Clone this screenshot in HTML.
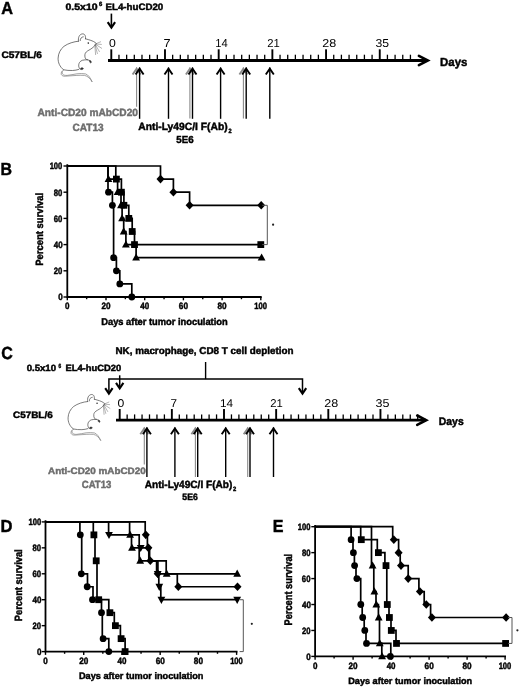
<!DOCTYPE html>
<html><head><meta charset="utf-8"><title>Figure</title>
<style>
html,body{margin:0;padding:0;background:#fff;}
body{width:520px;height:687px;overflow:hidden;font-family:"Liberation Sans", sans-serif;}
svg{display:block;filter:blur(0.3px);}
</style></head><body>
<svg width="520" height="687" viewBox="0 0 520 687" font-family='"Liberation Sans", sans-serif' text-rendering="geometricPrecision">
<rect width="520" height="687" fill="#fff"/>
<text x="1.22" y="13.60" font-size="17.50" font-weight="bold" stroke="#000" stroke-width="0.45" textLength="11.76" lengthAdjust="spacingAndGlyphs">A</text>
<text x="65.55" y="9.70" font-size="9.30" font-weight="bold" stroke="#000" stroke-width="0.45" textLength="32.01" lengthAdjust="spacingAndGlyphs">0.5x10</text>
<text x="98.92" y="6.00" font-size="6.20" font-weight="bold" stroke="#000" stroke-width="0.45" textLength="3.28" lengthAdjust="spacingAndGlyphs">6</text>
<text x="105.51" y="9.70" font-size="9.30" font-weight="bold" stroke="#000" stroke-width="0.45" textLength="57.78" lengthAdjust="spacingAndGlyphs">EL4-huCD20</text>
<path d="M111.4,13.6 V27" stroke="#000" stroke-width="1.6" fill="none" />
<path d="M107.70,22.20 L111.40,27.70 L115.10,22.20" stroke="#000" stroke-width="2.1" fill="none" stroke-linejoin="miter"/>
<text x="1.44" y="57.90" font-size="9.40" font-weight="bold" stroke="#000" stroke-width="0.45" textLength="40.49" lengthAdjust="spacingAndGlyphs">C57BL/6</text>

<g fill="none" stroke="#4a4a4a" stroke-width="0.75" stroke-linecap="round" stroke-linejoin="round">
<path d="M78.5,41.2 C77.8,37.8 79.4,34.2 82.3,33.9 C84.4,33.7 85.9,35.2 85.5,38.8"/>
<path d="M80.2,40.6 C80.3,38.4 81.3,37.0 83.3,36.8"/>
<path d="M85.5,38.8 C87.4,39.4 89.2,39.8 90.9,40.4 C92.6,41 94.2,41.7 95.2,42.5 C96,43 96.5,43.4 96.3,43.9 C96.1,44.5 95.6,44.9 95.2,45.2"/>
<path d="M95.2,45.2 C93.8,46.8 92.4,48 90.9,49 C89.6,49.9 88.2,50.4 87.2,51.2 C85.8,52.2 85,53.4 84.9,54.8 C84.8,56.6 85,58 85.8,58.9 C86.4,59.5 87,59.7 87.7,59.8 C88.8,60.1 90,60.6 90.9,61.4"/>
<path d="M78.5,41.2 C74,41.6 68,43.4 64,46.3 C60.5,49 58.2,53.6 58.1,58.2 C58,62.5 59.6,66.6 63.5,69.8"/>
<path d="M87.7,59.8 C85.8,59.8 83.8,59.8 82.3,60.3 C80.6,61 79.4,62.2 79,63.6 C78.5,65.2 78.6,66.6 79.2,67.8 C79.6,68.8 80.2,69.3 80.9,69.5"/>
<path d="M63.5,69.8 C66.5,70.4 69.5,70.6 72.5,70.5 C75,70.4 77,70 78.8,69.4"/>
</g>
<g fill="none" stroke="#7a7a7a" stroke-width="0.7" stroke-linecap="round">
<path d="M62.9,70.5 C62.2,71.6 62,73 62.4,73.8 C63.4,75.2 65,75.5 67.2,75.4 C70.5,75.2 73.5,74.2 76.9,73.8 C80,73.5 83,73.4 85.5,73.9 C88.4,74.8 90.6,78.2 92,81.6"/>
<path d="M61.6,71.6 C61.2,72.6 61,73.8 61.3,74.5 C62,75.8 63.4,76.3 65.1,76.2 C69,76 73,75.6 76.9,75.4 C79.5,75.3 82.2,75.2 84.5,75.4 C87.8,76 90.4,78.8 92,81.6"/>
</g>
<g fill="none" stroke="#666" stroke-width="0.5" stroke-linecap="round">
<path d="M95.8,43.8 L100.6,41.8"/>
<path d="M95.8,44 L101.4,44.4"/>
<path d="M95.6,44.4 L101.7,48.3"/>
<path d="M95.4,44.7 L99.4,51.6"/>
<path d="M95.1,44.9 L97.4,53.6"/>
<path d="M94.8,45.1 L95.6,54.6"/>
</g>
<circle cx="88.3" cy="43.1" r="0.8" fill="#222"/>
<path d="M89.6,60.4 C90.8,60.8 91.6,61.6 91.2,62.6 C90.6,63.2 89.9,62.6 89.6,61.8Z" fill="#333" stroke="#333" stroke-width="0.6"/>
<path d="M80.8,68.2 C81.8,67.6 83.2,67.8 83.4,68.8 C82.8,69.6 81.6,69.6 80.8,69.2Z" fill="#333" stroke="#333" stroke-width="0.6"/>

<path d="M108.00,60.50 H427.50" stroke="#000" stroke-width="2.8" fill="none" />
<path d="M418.90,55.80 L427.90,60.50 L418.90,65.20" stroke="#000" stroke-width="2.6" fill="none" stroke-linejoin="miter" stroke-linecap="round"/>
<line x1="111.30" y1="49.30" x2="111.30" y2="60.50" stroke="#000" stroke-width="1.9"/>
<line x1="118.97" y1="54.70" x2="118.97" y2="60.50" stroke="#000" stroke-width="1.3"/>
<line x1="126.64" y1="54.70" x2="126.64" y2="60.50" stroke="#000" stroke-width="1.3"/>
<line x1="134.31" y1="54.70" x2="134.31" y2="60.50" stroke="#000" stroke-width="1.3"/>
<line x1="141.98" y1="54.70" x2="141.98" y2="60.50" stroke="#000" stroke-width="1.3"/>
<line x1="149.65" y1="54.70" x2="149.65" y2="60.50" stroke="#000" stroke-width="1.3"/>
<line x1="157.32" y1="54.70" x2="157.32" y2="60.50" stroke="#000" stroke-width="1.3"/>
<line x1="164.99" y1="49.30" x2="164.99" y2="60.50" stroke="#000" stroke-width="1.9"/>
<line x1="172.66" y1="54.70" x2="172.66" y2="60.50" stroke="#000" stroke-width="1.3"/>
<line x1="180.33" y1="54.70" x2="180.33" y2="60.50" stroke="#000" stroke-width="1.3"/>
<line x1="188.00" y1="54.70" x2="188.00" y2="60.50" stroke="#000" stroke-width="1.3"/>
<line x1="195.67" y1="54.70" x2="195.67" y2="60.50" stroke="#000" stroke-width="1.3"/>
<line x1="203.34" y1="54.70" x2="203.34" y2="60.50" stroke="#000" stroke-width="1.3"/>
<line x1="211.01" y1="54.70" x2="211.01" y2="60.50" stroke="#000" stroke-width="1.3"/>
<line x1="218.68" y1="49.30" x2="218.68" y2="60.50" stroke="#000" stroke-width="1.9"/>
<line x1="226.35" y1="54.70" x2="226.35" y2="60.50" stroke="#000" stroke-width="1.3"/>
<line x1="234.02" y1="54.70" x2="234.02" y2="60.50" stroke="#000" stroke-width="1.3"/>
<line x1="241.69" y1="54.70" x2="241.69" y2="60.50" stroke="#000" stroke-width="1.3"/>
<line x1="249.36" y1="54.70" x2="249.36" y2="60.50" stroke="#000" stroke-width="1.3"/>
<line x1="257.03" y1="54.70" x2="257.03" y2="60.50" stroke="#000" stroke-width="1.3"/>
<line x1="264.70" y1="54.70" x2="264.70" y2="60.50" stroke="#000" stroke-width="1.3"/>
<line x1="272.37" y1="49.30" x2="272.37" y2="60.50" stroke="#000" stroke-width="1.9"/>
<line x1="280.04" y1="54.70" x2="280.04" y2="60.50" stroke="#000" stroke-width="1.3"/>
<line x1="287.71" y1="54.70" x2="287.71" y2="60.50" stroke="#000" stroke-width="1.3"/>
<line x1="295.38" y1="54.70" x2="295.38" y2="60.50" stroke="#000" stroke-width="1.3"/>
<line x1="303.05" y1="54.70" x2="303.05" y2="60.50" stroke="#000" stroke-width="1.3"/>
<line x1="310.72" y1="54.70" x2="310.72" y2="60.50" stroke="#000" stroke-width="1.3"/>
<line x1="318.39" y1="54.70" x2="318.39" y2="60.50" stroke="#000" stroke-width="1.3"/>
<line x1="326.06" y1="49.30" x2="326.06" y2="60.50" stroke="#000" stroke-width="1.9"/>
<line x1="333.73" y1="54.70" x2="333.73" y2="60.50" stroke="#000" stroke-width="1.3"/>
<line x1="341.40" y1="54.70" x2="341.40" y2="60.50" stroke="#000" stroke-width="1.3"/>
<line x1="349.07" y1="54.70" x2="349.07" y2="60.50" stroke="#000" stroke-width="1.3"/>
<line x1="356.74" y1="54.70" x2="356.74" y2="60.50" stroke="#000" stroke-width="1.3"/>
<line x1="364.41" y1="54.70" x2="364.41" y2="60.50" stroke="#000" stroke-width="1.3"/>
<line x1="372.08" y1="54.70" x2="372.08" y2="60.50" stroke="#000" stroke-width="1.3"/>
<line x1="379.75" y1="49.30" x2="379.75" y2="60.50" stroke="#000" stroke-width="1.9"/>
<line x1="387.42" y1="54.70" x2="387.42" y2="60.50" stroke="#000" stroke-width="1.3"/>
<line x1="395.09" y1="54.70" x2="395.09" y2="60.50" stroke="#000" stroke-width="1.3"/>
<line x1="402.76" y1="54.70" x2="402.76" y2="60.50" stroke="#000" stroke-width="1.3"/>
<line x1="410.43" y1="54.70" x2="410.43" y2="60.50" stroke="#000" stroke-width="1.3"/>
<text x="109.12" y="46.50" font-size="11.50" textLength="6.81" lengthAdjust="spacingAndGlyphs">0</text>
<text x="163.53" y="46.50" font-size="11.50" textLength="7.07" lengthAdjust="spacingAndGlyphs">7</text>
<text x="215.34" y="46.50" font-size="11.50" textLength="12.48" lengthAdjust="spacingAndGlyphs">14</text>
<text x="267.19" y="46.50" font-size="11.50" textLength="12.55" lengthAdjust="spacingAndGlyphs">21</text>
<text x="322.34" y="46.50" font-size="11.50" textLength="13.94" lengthAdjust="spacingAndGlyphs">28</text>
<text x="375.58" y="46.50" font-size="11.50" textLength="13.59" lengthAdjust="spacingAndGlyphs">35</text>
<text x="440.07" y="65.50" font-size="11.80" font-weight="bold" stroke="#000" stroke-width="0.45" textLength="27.24" lengthAdjust="spacingAndGlyphs">Days</text>
<path d="M136.60,67.60 V106.70" stroke="#8a8a8a" stroke-width="1.1" fill="none" />
<path d="M132.60,74.50 L136.60,68.70 L140.60,74.50" stroke="#8a8a8a" stroke-width="1.9" fill="none" stroke-linejoin="miter"/>
<path d="M189.90,67.60 V118.60" stroke="#8a8a8a" stroke-width="1.1" fill="none" />
<path d="M185.90,74.50 L189.90,68.70 L193.90,74.50" stroke="#8a8a8a" stroke-width="1.9" fill="none" stroke-linejoin="miter"/>
<path d="M243.40,67.60 V118.60" stroke="#8a8a8a" stroke-width="1.1" fill="none" />
<path d="M239.40,74.50 L243.40,68.70 L247.40,74.50" stroke="#8a8a8a" stroke-width="1.9" fill="none" stroke-linejoin="miter"/>
<path d="M139.60,67.60 V118.80" stroke="#000" stroke-width="1.4" fill="none" />
<path d="M135.60,74.50 L139.60,68.70 L143.60,74.50" stroke="#000" stroke-width="1.9" fill="none" stroke-linejoin="miter"/>
<path d="M168.50,67.60 V118.80" stroke="#000" stroke-width="1.4" fill="none" />
<path d="M164.50,74.50 L168.50,68.70 L172.50,74.50" stroke="#000" stroke-width="1.9" fill="none" stroke-linejoin="miter"/>
<path d="M192.50,67.60 V118.80" stroke="#000" stroke-width="1.4" fill="none" />
<path d="M188.50,74.50 L192.50,68.70 L196.50,74.50" stroke="#000" stroke-width="1.9" fill="none" stroke-linejoin="miter"/>
<path d="M220.60,67.60 V118.80" stroke="#000" stroke-width="1.4" fill="none" />
<path d="M216.60,74.50 L220.60,68.70 L224.60,74.50" stroke="#000" stroke-width="1.9" fill="none" stroke-linejoin="miter"/>
<path d="M246.20,67.60 V118.80" stroke="#000" stroke-width="1.4" fill="none" />
<path d="M242.20,74.50 L246.20,68.70 L250.20,74.50" stroke="#000" stroke-width="1.9" fill="none" stroke-linejoin="miter"/>
<path d="M269.80,67.60 V118.80" stroke="#000" stroke-width="1.4" fill="none" />
<path d="M265.80,74.50 L269.80,68.70 L273.80,74.50" stroke="#000" stroke-width="1.9" fill="none" stroke-linejoin="miter"/>
<text x="37.54" y="116.40" font-size="10.50" font-weight="bold" stroke="#6e6e6e" stroke-width="0.45" fill="#6e6e6e" textLength="100.40" lengthAdjust="spacingAndGlyphs">Anti-CD20 mAbCD20</text>
<text x="72.54" y="130.70" font-size="10.50" font-weight="bold" stroke="#6e6e6e" stroke-width="0.45" fill="#6e6e6e" textLength="31.03" lengthAdjust="spacingAndGlyphs">CAT13</text>
<text x="138.24" y="129.90" font-size="10.50" font-weight="bold" stroke="#000" stroke-width="0.45" textLength="89.40" lengthAdjust="spacingAndGlyphs">Anti-Ly49C/I F(Ab)</text>
<text x="228.52" y="132.60" font-size="6.20" font-weight="bold" stroke="#000" stroke-width="0.45" textLength="3.09" lengthAdjust="spacingAndGlyphs">2</text>
<text x="176.27" y="142.90" font-size="10.20" font-weight="bold" stroke="#000" stroke-width="0.45" textLength="17.31" lengthAdjust="spacingAndGlyphs">5E6</text>
<text x="0.43" y="175.40" font-size="17.50" font-weight="bold" stroke="#000" stroke-width="0.45" textLength="11.50" lengthAdjust="spacingAndGlyphs">B</text>
<path d="M67.30,165.20 V297.00 H260.80" stroke="#000" stroke-width="1.8" fill="none" stroke-linecap="square"/>
<line x1="63.50" y1="297.00" x2="67.30" y2="297.00" stroke="#000" stroke-width="1.4"/>
<text x="58.17" y="300.40" font-size="9.20" font-weight="bold" stroke="#000" stroke-width="0.45" textLength="4.49" lengthAdjust="spacingAndGlyphs">0</text>
<line x1="63.50" y1="270.80" x2="67.30" y2="270.80" stroke="#000" stroke-width="1.4"/>
<text x="53.69" y="274.20" font-size="9.20" font-weight="bold" stroke="#000" stroke-width="0.45" textLength="8.56" lengthAdjust="spacingAndGlyphs">20</text>
<line x1="63.50" y1="244.60" x2="67.30" y2="244.60" stroke="#000" stroke-width="1.4"/>
<text x="53.78" y="248.00" font-size="9.20" font-weight="bold" stroke="#000" stroke-width="0.45" textLength="8.90" lengthAdjust="spacingAndGlyphs">40</text>
<line x1="63.50" y1="218.40" x2="67.30" y2="218.40" stroke="#000" stroke-width="1.4"/>
<text x="53.67" y="221.80" font-size="9.20" font-weight="bold" stroke="#000" stroke-width="0.45" textLength="8.63" lengthAdjust="spacingAndGlyphs">60</text>
<line x1="63.50" y1="192.20" x2="67.30" y2="192.20" stroke="#000" stroke-width="1.4"/>
<text x="53.69" y="195.60" font-size="9.20" font-weight="bold" stroke="#000" stroke-width="0.45" textLength="8.59" lengthAdjust="spacingAndGlyphs">80</text>
<line x1="63.50" y1="166.00" x2="67.30" y2="166.00" stroke="#000" stroke-width="1.4"/>
<text x="49.64" y="169.40" font-size="9.20" font-weight="bold" stroke="#000" stroke-width="0.45" textLength="12.68" lengthAdjust="spacingAndGlyphs">100</text>
<line x1="67.30" y1="297.00" x2="67.30" y2="300.30" stroke="#000" stroke-width="1.4"/>
<text x="65.12" y="309.30" font-size="9.20" font-weight="bold" stroke="#000" stroke-width="0.45" textLength="4.49" lengthAdjust="spacingAndGlyphs">0</text>
<line x1="86.65" y1="297.00" x2="86.65" y2="299.20" stroke="#000" stroke-width="1.4"/>
<line x1="106.00" y1="297.00" x2="106.00" y2="300.30" stroke="#000" stroke-width="1.4"/>
<text x="101.49" y="309.30" font-size="9.20" font-weight="bold" stroke="#000" stroke-width="0.45" textLength="9.09" lengthAdjust="spacingAndGlyphs">20</text>
<line x1="125.35" y1="297.00" x2="125.35" y2="299.20" stroke="#000" stroke-width="1.4"/>
<line x1="144.70" y1="297.00" x2="144.70" y2="300.30" stroke="#000" stroke-width="1.4"/>
<text x="140.27" y="309.30" font-size="9.20" font-weight="bold" stroke="#000" stroke-width="0.45" textLength="8.92" lengthAdjust="spacingAndGlyphs">40</text>
<line x1="164.05" y1="297.00" x2="164.05" y2="299.20" stroke="#000" stroke-width="1.4"/>
<line x1="183.40" y1="297.00" x2="183.40" y2="300.30" stroke="#000" stroke-width="1.4"/>
<text x="178.87" y="309.30" font-size="9.20" font-weight="bold" stroke="#000" stroke-width="0.45" textLength="9.15" lengthAdjust="spacingAndGlyphs">60</text>
<line x1="202.75" y1="297.00" x2="202.75" y2="299.20" stroke="#000" stroke-width="1.4"/>
<line x1="222.10" y1="297.00" x2="222.10" y2="300.30" stroke="#000" stroke-width="1.4"/>
<text x="217.57" y="309.30" font-size="9.20" font-weight="bold" stroke="#000" stroke-width="0.45" textLength="9.13" lengthAdjust="spacingAndGlyphs">80</text>
<line x1="241.45" y1="297.00" x2="241.45" y2="299.20" stroke="#000" stroke-width="1.4"/>
<line x1="260.80" y1="297.00" x2="260.80" y2="300.30" stroke="#000" stroke-width="1.4"/>
<text x="254.34" y="309.30" font-size="9.20" font-weight="bold" stroke="#000" stroke-width="0.45" textLength="12.68" lengthAdjust="spacingAndGlyphs">100</text>
<text x="101.21" y="325.00" font-size="9.80" font-weight="bold" stroke="#000" stroke-width="0.45" textLength="126.51" lengthAdjust="spacingAndGlyphs">Days after tumor inoculation</text>
<text x="0" y="0" font-size="10.50" font-weight="bold" stroke="#000" stroke-width="0.45" textLength="72.94" lengthAdjust="spacingAndGlyphs" transform="translate(43.30,265.69) rotate(-90)">Percent survival</text>
<path d="M67.30,166.00 H160.50 V179.10 H173.40 V192.20 H189.60 V205.30 H260.80" stroke="#000" stroke-width="1.7" fill="none" stroke-linejoin="miter" stroke-linecap="butt"/>
<path d="M67.30,166.00 H115.80 V179.10 H121.40 V192.20 H123.90 V205.30 H128.80 V218.40 H132.20 V231.50 H134.50 V244.60 H260.80" stroke="#000" stroke-width="1.7" fill="none" stroke-linejoin="miter" stroke-linecap="butt"/>
<path d="M67.30,166.00 H108.00 V179.10 H117.60 V192.20 H121.00 V205.30 H122.10 V218.40 H123.70 V231.50 H125.90 V244.60 H136.10 V257.70 H260.80" stroke="#000" stroke-width="1.7" fill="none" stroke-linejoin="miter" stroke-linecap="butt"/>
<path d="M67.30,166.00 H108.00 V192.20 H112.40 V205.30 H113.60 V257.70 H116.40 V270.80 H119.80 V283.90 H131.80 V297.00" stroke="#000" stroke-width="1.7" fill="none" stroke-linejoin="miter" stroke-linecap="butt"/>
<path d="M160.50,174.80 L164.50,179.10 L160.50,183.40 L156.50,179.10Z"/>
<path d="M173.40,187.90 L177.40,192.20 L173.40,196.50 L169.40,192.20Z"/>
<path d="M189.60,201.00 L193.60,205.30 L189.60,209.60 L185.60,205.30Z"/>
<path d="M261.20,201.00 L265.20,205.30 L261.20,209.60 L257.20,205.30Z"/>
<rect x="113.00" y="175.70" width="6.80" height="6.80"/>
<rect x="118.00" y="188.80" width="6.80" height="6.80"/>
<rect x="120.50" y="201.90" width="6.80" height="6.80"/>
<rect x="125.40" y="215.00" width="6.80" height="6.80"/>
<rect x="128.80" y="228.10" width="6.80" height="6.80"/>
<rect x="131.10" y="241.20" width="6.80" height="6.80"/>
<rect x="257.40" y="241.20" width="6.80" height="6.80"/>
<path d="M108.50,174.90 L112.40,182.00 L104.60,182.00Z"/>
<path d="M117.60,188.00 L121.50,195.10 L113.70,195.10Z"/>
<path d="M121.00,201.10 L124.90,208.20 L117.10,208.20Z"/>
<path d="M122.10,214.20 L126.00,221.30 L118.20,221.30Z"/>
<path d="M123.70,227.30 L127.60,234.40 L119.80,234.40Z"/>
<path d="M125.90,240.40 L129.80,247.50 L122.00,247.50Z"/>
<path d="M136.10,253.50 L140.00,260.60 L132.20,260.60Z"/>
<path d="M261.60,253.50 L265.50,260.60 L257.70,260.60Z"/>
<circle cx="108.50" cy="192.20" r="3.40"/>
<circle cx="112.40" cy="205.30" r="3.40"/>
<circle cx="113.60" cy="257.70" r="3.40"/>
<circle cx="116.40" cy="270.80" r="3.40"/>
<circle cx="119.80" cy="283.90" r="3.40"/>
<circle cx="131.80" cy="297.00" r="3.40"/>
<path d="M262.30,205.30 H267.30 V244.60 H262.30" stroke="#555" stroke-width="1.0" fill="none" />
<circle cx="273.1" cy="224.7" r="1.1" fill="#222"/>
<text x="1.20" y="359.00" font-size="17.50" font-weight="bold" stroke="#000" stroke-width="0.45" textLength="11.57" lengthAdjust="spacingAndGlyphs">C</text>
<text x="115.41" y="353.80" font-size="10.00" font-weight="bold" stroke="#000" stroke-width="0.45" textLength="178.11" lengthAdjust="spacingAndGlyphs">NK, macrophage, CD8 T cell depletion</text>
<text x="26.67" y="371.00" font-size="9.00" font-weight="bold" stroke="#000" stroke-width="0.45" textLength="29.34" lengthAdjust="spacingAndGlyphs">0.5x10</text>
<text x="58.61" y="367.60" font-size="6.20" font-weight="bold" stroke="#000" stroke-width="0.45" textLength="2.70" lengthAdjust="spacingAndGlyphs">6</text>
<text x="65.42" y="371.00" font-size="9.00" font-weight="bold" stroke="#000" stroke-width="0.45" textLength="55.76" lengthAdjust="spacingAndGlyphs">EL4-huCD20</text>
<path d="M205.6,362 V379.1" stroke="#000" stroke-width="1.4" fill="none" />
<path d="M108.9,393 V379.1 H302.5 V393" stroke="#000" stroke-width="1.5" fill="none" stroke-linejoin="miter"/>
<path d="M105.20,388.20 L108.90,393.70 L112.60,388.20" stroke="#000" stroke-width="2.1" fill="none" stroke-linejoin="miter"/>
<path d="M298.80,388.20 L302.50,393.70 L306.20,388.20" stroke="#000" stroke-width="2.1" fill="none" stroke-linejoin="miter"/>
<path d="M119.7,375.3 V388" stroke="#000" stroke-width="1.5" fill="none" />
<path d="M116.00,382.90 L119.70,388.40 L123.40,382.90" stroke="#000" stroke-width="2.1" fill="none" stroke-linejoin="miter"/>
<text x="13.05" y="418.00" font-size="9.30" font-weight="bold" stroke="#000" stroke-width="0.45" textLength="39.59" lengthAdjust="spacingAndGlyphs">C57BL/6</text>
<g transform="translate(91.3,394.9) scale(0.96) translate(-82.3,-34.3)">
<g fill="none" stroke="#4a4a4a" stroke-width="0.75" stroke-linecap="round" stroke-linejoin="round">
<path d="M78.5,41.2 C77.8,37.8 79.4,34.2 82.3,33.9 C84.4,33.7 85.9,35.2 85.5,38.8"/>
<path d="M80.2,40.6 C80.3,38.4 81.3,37.0 83.3,36.8"/>
<path d="M85.5,38.8 C87.4,39.4 89.2,39.8 90.9,40.4 C92.6,41 94.2,41.7 95.2,42.5 C96,43 96.5,43.4 96.3,43.9 C96.1,44.5 95.6,44.9 95.2,45.2"/>
<path d="M95.2,45.2 C93.8,46.8 92.4,48 90.9,49 C89.6,49.9 88.2,50.4 87.2,51.2 C85.8,52.2 85,53.4 84.9,54.8 C84.8,56.6 85,58 85.8,58.9 C86.4,59.5 87,59.7 87.7,59.8 C88.8,60.1 90,60.6 90.9,61.4"/>
<path d="M78.5,41.2 C74,41.6 68,43.4 64,46.3 C60.5,49 58.2,53.6 58.1,58.2 C58,62.5 59.6,66.6 63.5,69.8"/>
<path d="M87.7,59.8 C85.8,59.8 83.8,59.8 82.3,60.3 C80.6,61 79.4,62.2 79,63.6 C78.5,65.2 78.6,66.6 79.2,67.8 C79.6,68.8 80.2,69.3 80.9,69.5"/>
<path d="M63.5,69.8 C66.5,70.4 69.5,70.6 72.5,70.5 C75,70.4 77,70 78.8,69.4"/>
</g>
<g fill="none" stroke="#7a7a7a" stroke-width="0.7" stroke-linecap="round">
<path d="M62.9,70.5 C62.2,71.6 62,73 62.4,73.8 C63.4,75.2 65,75.5 67.2,75.4 C70.5,75.2 73.5,74.2 76.9,73.8 C80,73.5 83,73.4 85.5,73.9 C88.4,74.8 90.6,78.2 92,81.6"/>
<path d="M61.6,71.6 C61.2,72.6 61,73.8 61.3,74.5 C62,75.8 63.4,76.3 65.1,76.2 C69,76 73,75.6 76.9,75.4 C79.5,75.3 82.2,75.2 84.5,75.4 C87.8,76 90.4,78.8 92,81.6"/>
</g>
<g fill="none" stroke="#666" stroke-width="0.5" stroke-linecap="round">
<path d="M95.8,43.8 L100.6,41.8"/>
<path d="M95.8,44 L101.4,44.4"/>
<path d="M95.6,44.4 L101.7,48.3"/>
<path d="M95.4,44.7 L99.4,51.6"/>
<path d="M95.1,44.9 L97.4,53.6"/>
<path d="M94.8,45.1 L95.6,54.6"/>
</g>
<circle cx="88.3" cy="43.1" r="0.8" fill="#222"/>
<path d="M89.6,60.4 C90.8,60.8 91.6,61.6 91.2,62.6 C90.6,63.2 89.9,62.6 89.6,61.8Z" fill="#333" stroke="#333" stroke-width="0.6"/>
<path d="M80.8,68.2 C81.8,67.6 83.2,67.8 83.4,68.8 C82.8,69.6 81.6,69.6 80.8,69.2Z" fill="#333" stroke="#333" stroke-width="0.6"/>
</g>
<path d="M116.00,420.20 H425.80" stroke="#000" stroke-width="2.8" fill="none" />
<path d="M417.20,415.50 L426.20,420.20 L417.20,424.90" stroke="#000" stroke-width="2.6" fill="none" stroke-linejoin="miter" stroke-linecap="round"/>
<line x1="119.70" y1="409.00" x2="119.70" y2="420.20" stroke="#000" stroke-width="1.9"/>
<line x1="127.15" y1="414.40" x2="127.15" y2="420.20" stroke="#000" stroke-width="1.3"/>
<line x1="134.60" y1="414.40" x2="134.60" y2="420.20" stroke="#000" stroke-width="1.3"/>
<line x1="142.05" y1="414.40" x2="142.05" y2="420.20" stroke="#000" stroke-width="1.3"/>
<line x1="149.50" y1="414.40" x2="149.50" y2="420.20" stroke="#000" stroke-width="1.3"/>
<line x1="156.95" y1="414.40" x2="156.95" y2="420.20" stroke="#000" stroke-width="1.3"/>
<line x1="164.40" y1="414.40" x2="164.40" y2="420.20" stroke="#000" stroke-width="1.3"/>
<line x1="171.85" y1="409.00" x2="171.85" y2="420.20" stroke="#000" stroke-width="1.9"/>
<line x1="179.30" y1="414.40" x2="179.30" y2="420.20" stroke="#000" stroke-width="1.3"/>
<line x1="186.75" y1="414.40" x2="186.75" y2="420.20" stroke="#000" stroke-width="1.3"/>
<line x1="194.20" y1="414.40" x2="194.20" y2="420.20" stroke="#000" stroke-width="1.3"/>
<line x1="201.65" y1="414.40" x2="201.65" y2="420.20" stroke="#000" stroke-width="1.3"/>
<line x1="209.10" y1="414.40" x2="209.10" y2="420.20" stroke="#000" stroke-width="1.3"/>
<line x1="216.55" y1="414.40" x2="216.55" y2="420.20" stroke="#000" stroke-width="1.3"/>
<line x1="224.00" y1="409.00" x2="224.00" y2="420.20" stroke="#000" stroke-width="1.9"/>
<line x1="231.45" y1="414.40" x2="231.45" y2="420.20" stroke="#000" stroke-width="1.3"/>
<line x1="238.90" y1="414.40" x2="238.90" y2="420.20" stroke="#000" stroke-width="1.3"/>
<line x1="246.35" y1="414.40" x2="246.35" y2="420.20" stroke="#000" stroke-width="1.3"/>
<line x1="253.80" y1="414.40" x2="253.80" y2="420.20" stroke="#000" stroke-width="1.3"/>
<line x1="261.25" y1="414.40" x2="261.25" y2="420.20" stroke="#000" stroke-width="1.3"/>
<line x1="268.70" y1="414.40" x2="268.70" y2="420.20" stroke="#000" stroke-width="1.3"/>
<line x1="276.15" y1="409.00" x2="276.15" y2="420.20" stroke="#000" stroke-width="1.9"/>
<line x1="283.60" y1="414.40" x2="283.60" y2="420.20" stroke="#000" stroke-width="1.3"/>
<line x1="291.05" y1="414.40" x2="291.05" y2="420.20" stroke="#000" stroke-width="1.3"/>
<line x1="298.50" y1="414.40" x2="298.50" y2="420.20" stroke="#000" stroke-width="1.3"/>
<line x1="305.95" y1="414.40" x2="305.95" y2="420.20" stroke="#000" stroke-width="1.3"/>
<line x1="313.40" y1="414.40" x2="313.40" y2="420.20" stroke="#000" stroke-width="1.3"/>
<line x1="320.85" y1="414.40" x2="320.85" y2="420.20" stroke="#000" stroke-width="1.3"/>
<line x1="328.30" y1="409.00" x2="328.30" y2="420.20" stroke="#000" stroke-width="1.9"/>
<line x1="335.75" y1="414.40" x2="335.75" y2="420.20" stroke="#000" stroke-width="1.3"/>
<line x1="343.20" y1="414.40" x2="343.20" y2="420.20" stroke="#000" stroke-width="1.3"/>
<line x1="350.65" y1="414.40" x2="350.65" y2="420.20" stroke="#000" stroke-width="1.3"/>
<line x1="358.10" y1="414.40" x2="358.10" y2="420.20" stroke="#000" stroke-width="1.3"/>
<line x1="365.55" y1="414.40" x2="365.55" y2="420.20" stroke="#000" stroke-width="1.3"/>
<line x1="373.00" y1="414.40" x2="373.00" y2="420.20" stroke="#000" stroke-width="1.3"/>
<line x1="380.45" y1="409.00" x2="380.45" y2="420.20" stroke="#000" stroke-width="1.9"/>
<line x1="387.90" y1="414.40" x2="387.90" y2="420.20" stroke="#000" stroke-width="1.3"/>
<line x1="395.35" y1="414.40" x2="395.35" y2="420.20" stroke="#000" stroke-width="1.3"/>
<line x1="402.80" y1="414.40" x2="402.80" y2="420.20" stroke="#000" stroke-width="1.3"/>
<line x1="410.25" y1="414.40" x2="410.25" y2="420.20" stroke="#000" stroke-width="1.3"/>
<line x1="417.70" y1="414.40" x2="417.70" y2="420.20" stroke="#000" stroke-width="1.3"/>
<text x="117.45" y="407.00" font-size="11.30" textLength="6.79" lengthAdjust="spacingAndGlyphs">0</text>
<text x="170.49" y="407.00" font-size="11.30" textLength="6.57" lengthAdjust="spacingAndGlyphs">7</text>
<text x="219.93" y="407.00" font-size="11.30" textLength="13.13" lengthAdjust="spacingAndGlyphs">14</text>
<text x="270.19" y="407.00" font-size="11.30" textLength="12.54" lengthAdjust="spacingAndGlyphs">21</text>
<text x="324.25" y="407.00" font-size="11.30" textLength="13.97" lengthAdjust="spacingAndGlyphs">28</text>
<text x="375.55" y="407.00" font-size="11.30" textLength="13.97" lengthAdjust="spacingAndGlyphs">35</text>
<text x="438.80" y="424.60" font-size="11.00" font-weight="bold" stroke="#000" stroke-width="0.45" textLength="24.89" lengthAdjust="spacingAndGlyphs">Days</text>
<path d="M144.30,427.40 V464.60" stroke="#8a8a8a" stroke-width="1.1" fill="none" />
<path d="M140.30,434.30 L144.30,428.50 L148.30,434.30" stroke="#8a8a8a" stroke-width="1.9" fill="none" stroke-linejoin="miter"/>
<path d="M195.40,427.40 V477.00" stroke="#8a8a8a" stroke-width="1.1" fill="none" />
<path d="M191.40,434.30 L195.40,428.50 L199.40,434.30" stroke="#8a8a8a" stroke-width="1.9" fill="none" stroke-linejoin="miter"/>
<path d="M247.70,427.40 V477.00" stroke="#8a8a8a" stroke-width="1.1" fill="none" />
<path d="M243.70,434.30 L247.70,428.50 L251.70,434.30" stroke="#8a8a8a" stroke-width="1.9" fill="none" stroke-linejoin="miter"/>
<path d="M146.90,427.40 V477.00" stroke="#000" stroke-width="1.4" fill="none" />
<path d="M142.90,434.30 L146.90,428.50 L150.90,434.30" stroke="#000" stroke-width="1.9" fill="none" stroke-linejoin="miter"/>
<path d="M174.90,427.40 V477.00" stroke="#000" stroke-width="1.4" fill="none" />
<path d="M170.90,434.30 L174.90,428.50 L178.90,434.30" stroke="#000" stroke-width="1.9" fill="none" stroke-linejoin="miter"/>
<path d="M197.70,427.40 V477.00" stroke="#000" stroke-width="1.4" fill="none" />
<path d="M193.70,434.30 L197.70,428.50 L201.70,434.30" stroke="#000" stroke-width="1.9" fill="none" stroke-linejoin="miter"/>
<path d="M225.70,427.40 V477.00" stroke="#000" stroke-width="1.4" fill="none" />
<path d="M221.70,434.30 L225.70,428.50 L229.70,434.30" stroke="#000" stroke-width="1.9" fill="none" stroke-linejoin="miter"/>
<path d="M250.00,427.40 V477.00" stroke="#000" stroke-width="1.4" fill="none" />
<path d="M246.00,434.30 L250.00,428.50 L254.00,434.30" stroke="#000" stroke-width="1.9" fill="none" stroke-linejoin="miter"/>
<path d="M273.50,427.40 V477.00" stroke="#000" stroke-width="1.4" fill="none" />
<path d="M269.50,434.30 L273.50,428.50 L277.50,434.30" stroke="#000" stroke-width="1.9" fill="none" stroke-linejoin="miter"/>
<text x="48.05" y="474.10" font-size="9.30" font-weight="bold" stroke="#6e6e6e" stroke-width="0.45" fill="#6e6e6e" textLength="97.60" lengthAdjust="spacingAndGlyphs">Anti-CD20 mAbCD20</text>
<text x="81.75" y="487.80" font-size="10.40" font-weight="bold" stroke="#6e6e6e" stroke-width="0.45" fill="#6e6e6e" textLength="29.55" lengthAdjust="spacingAndGlyphs">CAT13</text>
<text x="144.75" y="488.00" font-size="10.50" font-weight="bold" stroke="#000" stroke-width="0.45" textLength="87.60" lengthAdjust="spacingAndGlyphs">Anti-Ly49C/I F(Ab)</text>
<text x="232.92" y="490.80" font-size="6.20" font-weight="bold" stroke="#000" stroke-width="0.45" textLength="3.23" lengthAdjust="spacingAndGlyphs">2</text>
<text x="182.36" y="499.60" font-size="9.30" font-weight="bold" stroke="#000" stroke-width="0.45" textLength="15.33" lengthAdjust="spacingAndGlyphs">5E6</text>
<text x="0.41" y="532.10" font-size="17.50" font-weight="bold" stroke="#000" stroke-width="0.45" textLength="11.96" lengthAdjust="spacingAndGlyphs">D</text>
<path d="M45.50,521.10 V651.60 H236.60" stroke="#000" stroke-width="1.8" fill="none" stroke-linecap="square"/>
<line x1="41.70" y1="651.60" x2="45.50" y2="651.60" stroke="#000" stroke-width="1.4"/>
<text x="36.97" y="655.00" font-size="9.20" font-weight="bold" stroke="#000" stroke-width="0.45" textLength="4.49" lengthAdjust="spacingAndGlyphs">0</text>
<line x1="41.70" y1="625.66" x2="45.50" y2="625.66" stroke="#000" stroke-width="1.4"/>
<text x="32.49" y="629.06" font-size="9.20" font-weight="bold" stroke="#000" stroke-width="0.45" textLength="8.56" lengthAdjust="spacingAndGlyphs">20</text>
<line x1="41.70" y1="599.72" x2="45.50" y2="599.72" stroke="#000" stroke-width="1.4"/>
<text x="32.58" y="603.12" font-size="9.20" font-weight="bold" stroke="#000" stroke-width="0.45" textLength="8.90" lengthAdjust="spacingAndGlyphs">40</text>
<line x1="41.70" y1="573.78" x2="45.50" y2="573.78" stroke="#000" stroke-width="1.4"/>
<text x="32.47" y="577.18" font-size="9.20" font-weight="bold" stroke="#000" stroke-width="0.45" textLength="8.63" lengthAdjust="spacingAndGlyphs">60</text>
<line x1="41.70" y1="547.84" x2="45.50" y2="547.84" stroke="#000" stroke-width="1.4"/>
<text x="32.49" y="551.24" font-size="9.20" font-weight="bold" stroke="#000" stroke-width="0.45" textLength="8.59" lengthAdjust="spacingAndGlyphs">80</text>
<line x1="41.70" y1="521.90" x2="45.50" y2="521.90" stroke="#000" stroke-width="1.4"/>
<text x="28.44" y="525.30" font-size="9.20" font-weight="bold" stroke="#000" stroke-width="0.45" textLength="12.68" lengthAdjust="spacingAndGlyphs">100</text>
<line x1="45.50" y1="651.60" x2="45.50" y2="654.90" stroke="#000" stroke-width="1.4"/>
<text x="43.32" y="663.60" font-size="9.20" font-weight="bold" stroke="#000" stroke-width="0.45" textLength="4.49" lengthAdjust="spacingAndGlyphs">0</text>
<line x1="64.61" y1="651.60" x2="64.61" y2="653.80" stroke="#000" stroke-width="1.4"/>
<line x1="83.72" y1="651.60" x2="83.72" y2="654.90" stroke="#000" stroke-width="1.4"/>
<text x="79.21" y="663.60" font-size="9.20" font-weight="bold" stroke="#000" stroke-width="0.45" textLength="9.09" lengthAdjust="spacingAndGlyphs">20</text>
<line x1="102.83" y1="651.60" x2="102.83" y2="653.80" stroke="#000" stroke-width="1.4"/>
<line x1="121.94" y1="651.60" x2="121.94" y2="654.90" stroke="#000" stroke-width="1.4"/>
<text x="117.51" y="663.60" font-size="9.20" font-weight="bold" stroke="#000" stroke-width="0.45" textLength="8.92" lengthAdjust="spacingAndGlyphs">40</text>
<line x1="141.05" y1="651.60" x2="141.05" y2="653.80" stroke="#000" stroke-width="1.4"/>
<line x1="160.16" y1="651.60" x2="160.16" y2="654.90" stroke="#000" stroke-width="1.4"/>
<text x="155.63" y="663.60" font-size="9.20" font-weight="bold" stroke="#000" stroke-width="0.45" textLength="9.15" lengthAdjust="spacingAndGlyphs">60</text>
<line x1="179.27" y1="651.60" x2="179.27" y2="653.80" stroke="#000" stroke-width="1.4"/>
<line x1="198.38" y1="651.60" x2="198.38" y2="654.90" stroke="#000" stroke-width="1.4"/>
<text x="193.85" y="663.60" font-size="9.20" font-weight="bold" stroke="#000" stroke-width="0.45" textLength="9.13" lengthAdjust="spacingAndGlyphs">80</text>
<line x1="217.49" y1="651.60" x2="217.49" y2="653.80" stroke="#000" stroke-width="1.4"/>
<line x1="236.60" y1="651.60" x2="236.60" y2="654.90" stroke="#000" stroke-width="1.4"/>
<text x="230.14" y="663.60" font-size="9.20" font-weight="bold" stroke="#000" stroke-width="0.45" textLength="12.68" lengthAdjust="spacingAndGlyphs">100</text>
<text x="78.91" y="678.80" font-size="9.50" font-weight="bold" stroke="#000" stroke-width="0.45" textLength="124.55" lengthAdjust="spacingAndGlyphs">Days after tumor inoculation</text>
<text x="0" y="0" font-size="10.50" font-weight="bold" stroke="#000" stroke-width="0.45" textLength="71.91" lengthAdjust="spacingAndGlyphs" transform="translate(21.90,621.19) rotate(-90)">Percent survival</text>
<path d="M45.50,521.90 H129.60 V534.87 H131.50 V547.84 H139.20 V560.81 H166.20 V573.78 H236.60" stroke="#000" stroke-width="1.7" fill="none" stroke-linejoin="miter" stroke-linecap="butt"/>
<path d="M45.50,521.90 H145.20 V534.87 H147.40 V547.84 H149.60 V560.81 H156.60 V573.78 H177.30 V586.75 H236.60" stroke="#000" stroke-width="1.7" fill="none" stroke-linejoin="miter" stroke-linecap="butt"/>
<path d="M45.50,521.90 H108.60 V534.87 H139.20 V547.84 H148.80 V560.81 H157.90 V573.78 H158.80 V586.75 H160.80 V599.72 H236.60" stroke="#000" stroke-width="1.7" fill="none" stroke-linejoin="miter" stroke-linecap="butt"/>
<path d="M45.50,521.90 H93.30 V534.87 H95.00 V560.81 H97.00 V599.72 H108.80 V612.69 H114.30 V625.66 H120.40 V638.63 H125.10 V651.60" stroke="#000" stroke-width="1.7" fill="none" stroke-linejoin="miter" stroke-linecap="butt"/>
<path d="M45.50,521.90 H79.90 V534.87 H81.70 V573.78 H87.50 V586.75 H93.00 V599.72 H101.50 V612.69 H102.30 V638.63 H108.80 V651.60" stroke="#000" stroke-width="1.7" fill="none" stroke-linejoin="miter" stroke-linecap="butt"/>
<path d="M130.10,530.67 L134.00,537.77 L126.20,537.77Z"/>
<path d="M132.00,543.64 L135.90,550.74 L128.10,550.74Z"/>
<path d="M140.20,556.61 L144.10,563.71 L136.30,563.71Z"/>
<path d="M166.70,569.58 L170.60,576.68 L162.80,576.68Z"/>
<path d="M237.20,569.58 L241.10,576.68 L233.30,576.68Z"/>
<path d="M145.80,530.57 L149.80,534.87 L145.80,539.17 L141.80,534.87Z"/>
<path d="M148.40,543.54 L152.40,547.84 L148.40,552.14 L144.40,547.84Z"/>
<path d="M150.30,556.51 L154.30,560.81 L150.30,565.11 L146.30,560.81Z"/>
<path d="M157.70,569.48 L161.70,573.78 L157.70,578.08 L153.70,573.78Z"/>
<path d="M178.30,582.45 L182.30,586.75 L178.30,591.05 L174.30,586.75Z"/>
<path d="M237.50,582.45 L241.50,586.75 L237.50,591.05 L233.50,586.75Z"/>
<path d="M109.00,539.07 L112.90,531.97 L105.10,531.97Z"/>
<path d="M140.70,552.04 L144.60,544.94 L136.80,544.94Z"/>
<path d="M157.70,577.98 L161.60,570.88 L153.80,570.88Z"/>
<path d="M159.30,590.95 L163.20,583.85 L155.40,583.85Z"/>
<path d="M161.40,603.92 L165.30,596.82 L157.50,596.82Z"/>
<path d="M237.20,603.92 L241.10,596.82 L233.30,596.82Z"/>
<rect x="90.50" y="531.47" width="6.80" height="6.80"/>
<rect x="92.80" y="557.41" width="6.80" height="6.80"/>
<rect x="95.30" y="596.32" width="6.80" height="6.80"/>
<rect x="106.50" y="609.29" width="6.80" height="6.80"/>
<rect x="112.00" y="622.26" width="6.80" height="6.80"/>
<rect x="117.70" y="635.23" width="6.80" height="6.80"/>
<rect x="121.70" y="648.20" width="6.80" height="6.80"/>
<circle cx="80.30" cy="534.87" r="3.40"/>
<circle cx="81.30" cy="573.78" r="3.40"/>
<circle cx="87.20" cy="586.75" r="3.40"/>
<circle cx="92.50" cy="599.72" r="3.40"/>
<circle cx="101.50" cy="612.69" r="3.40"/>
<circle cx="103.10" cy="638.63" r="3.40"/>
<circle cx="108.80" cy="651.60" r="3.40"/>
<path d="M239.60,599.72 H243.30 V651.60 H239.60" stroke="#555" stroke-width="1.0" fill="none" />
<circle cx="251.8" cy="623.8" r="1.1" fill="#222"/>
<text x="272.82" y="532.30" font-size="17.50" font-weight="bold" stroke="#000" stroke-width="0.45" textLength="10.74" lengthAdjust="spacingAndGlyphs">E</text>
<path d="M315.10,525.90 V656.40 H505.10" stroke="#000" stroke-width="1.8" fill="none" stroke-linecap="square"/>
<line x1="311.30" y1="656.40" x2="315.10" y2="656.40" stroke="#000" stroke-width="1.4"/>
<text x="306.37" y="659.80" font-size="9.20" font-weight="bold" stroke="#000" stroke-width="0.45" textLength="4.49" lengthAdjust="spacingAndGlyphs">0</text>
<line x1="311.30" y1="630.46" x2="315.10" y2="630.46" stroke="#000" stroke-width="1.4"/>
<text x="301.89" y="633.86" font-size="9.20" font-weight="bold" stroke="#000" stroke-width="0.45" textLength="8.56" lengthAdjust="spacingAndGlyphs">20</text>
<line x1="311.30" y1="604.52" x2="315.10" y2="604.52" stroke="#000" stroke-width="1.4"/>
<text x="301.98" y="607.92" font-size="9.20" font-weight="bold" stroke="#000" stroke-width="0.45" textLength="8.90" lengthAdjust="spacingAndGlyphs">40</text>
<line x1="311.30" y1="578.58" x2="315.10" y2="578.58" stroke="#000" stroke-width="1.4"/>
<text x="301.87" y="581.98" font-size="9.20" font-weight="bold" stroke="#000" stroke-width="0.45" textLength="8.63" lengthAdjust="spacingAndGlyphs">60</text>
<line x1="311.30" y1="552.64" x2="315.10" y2="552.64" stroke="#000" stroke-width="1.4"/>
<text x="301.89" y="556.04" font-size="9.20" font-weight="bold" stroke="#000" stroke-width="0.45" textLength="8.59" lengthAdjust="spacingAndGlyphs">80</text>
<line x1="311.30" y1="526.70" x2="315.10" y2="526.70" stroke="#000" stroke-width="1.4"/>
<text x="297.84" y="530.10" font-size="9.20" font-weight="bold" stroke="#000" stroke-width="0.45" textLength="12.68" lengthAdjust="spacingAndGlyphs">100</text>
<line x1="315.10" y1="656.40" x2="315.10" y2="659.70" stroke="#000" stroke-width="1.4"/>
<text x="312.92" y="669.00" font-size="9.20" font-weight="bold" stroke="#000" stroke-width="0.45" textLength="4.49" lengthAdjust="spacingAndGlyphs">0</text>
<line x1="334.10" y1="656.40" x2="334.10" y2="658.60" stroke="#000" stroke-width="1.4"/>
<line x1="353.10" y1="656.40" x2="353.10" y2="659.70" stroke="#000" stroke-width="1.4"/>
<text x="348.59" y="669.00" font-size="9.20" font-weight="bold" stroke="#000" stroke-width="0.45" textLength="9.09" lengthAdjust="spacingAndGlyphs">20</text>
<line x1="372.10" y1="656.40" x2="372.10" y2="658.60" stroke="#000" stroke-width="1.4"/>
<line x1="391.10" y1="656.40" x2="391.10" y2="659.70" stroke="#000" stroke-width="1.4"/>
<text x="386.67" y="669.00" font-size="9.20" font-weight="bold" stroke="#000" stroke-width="0.45" textLength="8.92" lengthAdjust="spacingAndGlyphs">40</text>
<line x1="410.10" y1="656.40" x2="410.10" y2="658.60" stroke="#000" stroke-width="1.4"/>
<line x1="429.10" y1="656.40" x2="429.10" y2="659.70" stroke="#000" stroke-width="1.4"/>
<text x="424.57" y="669.00" font-size="9.20" font-weight="bold" stroke="#000" stroke-width="0.45" textLength="9.15" lengthAdjust="spacingAndGlyphs">60</text>
<line x1="448.10" y1="656.40" x2="448.10" y2="658.60" stroke="#000" stroke-width="1.4"/>
<line x1="467.10" y1="656.40" x2="467.10" y2="659.70" stroke="#000" stroke-width="1.4"/>
<text x="462.57" y="669.00" font-size="9.20" font-weight="bold" stroke="#000" stroke-width="0.45" textLength="9.13" lengthAdjust="spacingAndGlyphs">80</text>
<line x1="486.10" y1="656.40" x2="486.10" y2="658.60" stroke="#000" stroke-width="1.4"/>
<line x1="505.10" y1="656.40" x2="505.10" y2="659.70" stroke="#000" stroke-width="1.4"/>
<text x="498.64" y="669.00" font-size="9.20" font-weight="bold" stroke="#000" stroke-width="0.45" textLength="12.68" lengthAdjust="spacingAndGlyphs">100</text>
<text x="348.22" y="683.50" font-size="9.20" font-weight="bold" stroke="#000" stroke-width="0.45" textLength="123.92" lengthAdjust="spacingAndGlyphs">Days after tumor inoculation</text>
<text x="0" y="0" font-size="11.00" font-weight="bold" stroke="#000" stroke-width="0.45" textLength="71.61" lengthAdjust="spacingAndGlyphs" transform="translate(292.10,625.49) rotate(-90)">Percent survival</text>
<path d="M315.10,526.70 H392.70 V539.67 H398.60 V552.64 H400.20 V565.61 H408.20 V578.58 H418.90 V591.55 H424.20 V604.52 H430.60 V617.49 H505.10" stroke="#000" stroke-width="1.7" fill="none" stroke-linejoin="miter" stroke-linecap="butt"/>
<path d="M315.10,526.70 H360.70 V539.67 H377.30 V552.64 H384.90 V565.61 H386.80 V604.52 H389.00 V617.49 H391.00 V630.46 H396.00 V643.43 H505.10" stroke="#000" stroke-width="1.7" fill="none" stroke-linejoin="miter" stroke-linecap="butt"/>
<path d="M315.10,526.70 H371.50 V565.61 H373.80 V591.55 H376.00 V604.52 H378.40 V617.49 H379.50 V643.43 H381.80 V656.40" stroke="#000" stroke-width="1.7" fill="none" stroke-linejoin="miter" stroke-linecap="butt"/>
<path d="M315.10,526.70 H351.10 V539.67 H353.00 V552.64 H354.40 V565.61 H356.00 V578.58 H360.70 V604.52 H362.20 V617.49 H364.20 V630.46 H366.00 V643.43 H390.80 V656.40" stroke="#000" stroke-width="1.7" fill="none" stroke-linejoin="miter" stroke-linecap="butt"/>
<path d="M393.80,535.37 L397.80,539.67 L393.80,543.97 L389.80,539.67Z"/>
<path d="M398.60,548.34 L402.60,552.64 L398.60,556.94 L394.60,552.64Z"/>
<path d="M401.00,561.31 L405.00,565.61 L401.00,569.91 L397.00,565.61Z"/>
<path d="M408.20,574.28 L412.20,578.58 L408.20,582.88 L404.20,578.58Z"/>
<path d="M419.90,587.25 L423.90,591.55 L419.90,595.85 L415.90,591.55Z"/>
<path d="M426.30,600.22 L430.30,604.52 L426.30,608.82 L422.30,604.52Z"/>
<path d="M431.90,613.19 L435.90,617.49 L431.90,621.79 L427.90,617.49Z"/>
<path d="M506.10,613.19 L510.10,617.49 L506.10,621.79 L502.10,617.49Z"/>
<rect x="357.90" y="536.27" width="6.80" height="6.80"/>
<rect x="375.00" y="549.24" width="6.80" height="6.80"/>
<rect x="382.60" y="562.21" width="6.80" height="6.80"/>
<rect x="383.90" y="601.12" width="6.80" height="6.80"/>
<rect x="386.00" y="614.09" width="6.80" height="6.80"/>
<rect x="387.90" y="627.06" width="6.80" height="6.80"/>
<rect x="393.10" y="640.03" width="6.80" height="6.80"/>
<rect x="502.20" y="640.03" width="6.80" height="6.80"/>
<path d="M372.60,561.41 L376.50,568.51 L368.70,568.51Z"/>
<path d="M374.40,587.35 L378.30,594.45 L370.50,594.45Z"/>
<path d="M376.30,600.32 L380.20,607.42 L372.40,607.42Z"/>
<path d="M378.70,613.29 L382.60,620.39 L374.80,620.39Z"/>
<path d="M379.80,639.23 L383.70,646.33 L375.90,646.33Z"/>
<path d="M382.10,652.20 L386.00,659.30 L378.20,659.30Z"/>
<circle cx="351.10" cy="539.67" r="3.40"/>
<circle cx="353.40" cy="552.64" r="3.40"/>
<circle cx="354.60" cy="565.61" r="3.40"/>
<circle cx="356.90" cy="578.58" r="3.40"/>
<circle cx="360.80" cy="604.52" r="3.40"/>
<circle cx="362.70" cy="617.49" r="3.40"/>
<circle cx="364.80" cy="630.46" r="3.40"/>
<circle cx="366.50" cy="643.43" r="3.40"/>
<circle cx="390.40" cy="656.40" r="3.40"/>
<path d="M508.10,617.49 H512.00 V643.43 H508.10" stroke="#555" stroke-width="1.0" fill="none" />
<circle cx="517.4" cy="630.3" r="1.1" fill="#222"/>
</svg>
</body></html>
